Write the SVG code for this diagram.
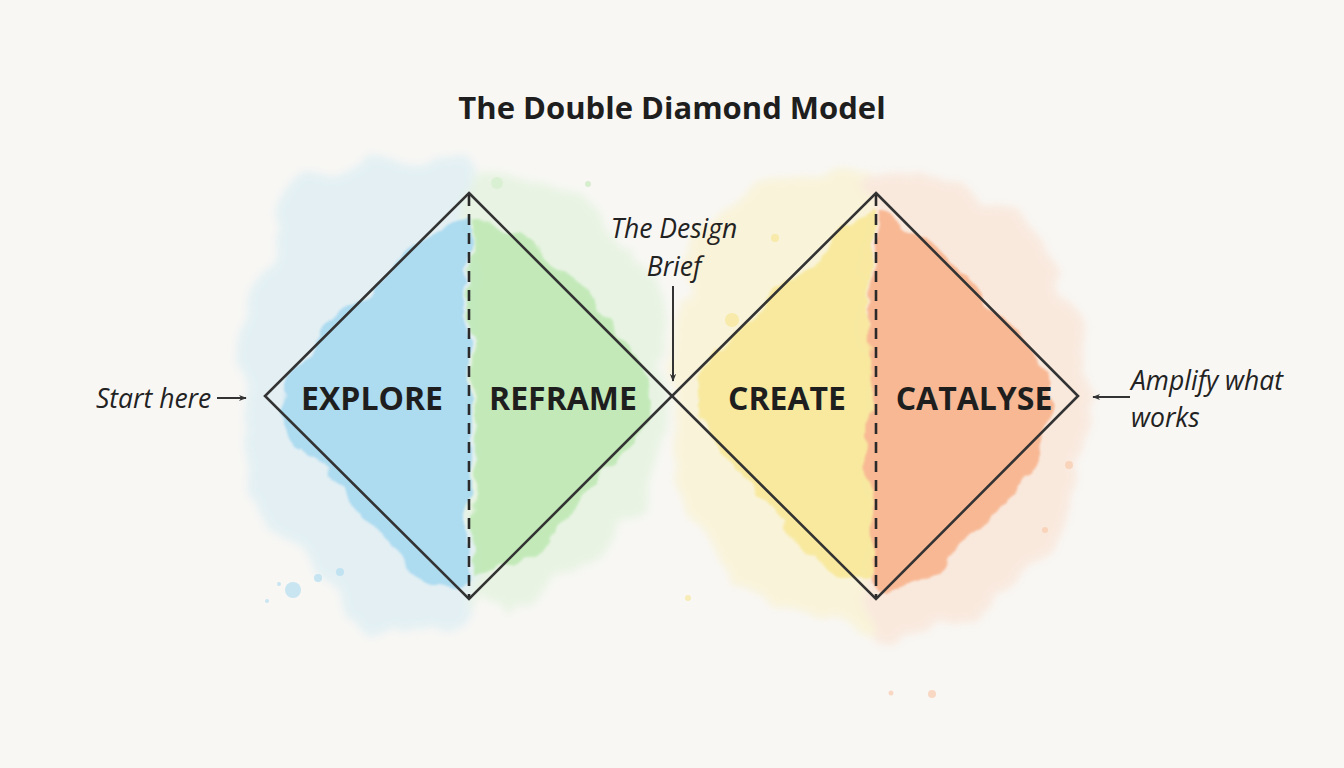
<svg xmlns="http://www.w3.org/2000/svg" width="1344" height="768" viewBox="0 0 1344 768">
<defs>
<filter id="wc" x="-20%" y="-20%" width="140%" height="140%">
<feTurbulence type="fractalNoise" baseFrequency="0.025" numOctaves="3" seed="4" result="n"/>
<feDisplacementMap in="SourceGraphic" in2="n" scale="28" xChannelSelector="R" yChannelSelector="G" result="d"/>
<feGaussianBlur in="d" stdDeviation="1.2"/>
</filter>
<filter id="halo" x="-20%" y="-20%" width="140%" height="140%">
<feTurbulence type="fractalNoise" baseFrequency="0.018" numOctaves="3" seed="9" result="n"/>
<feDisplacementMap in="SourceGraphic" in2="n" scale="45" xChannelSelector="R" yChannelSelector="G" result="d"/>
<feGaussianBlur in="d" stdDeviation="4"/>
</filter>
<marker id="ah" viewBox="0 0 10 10" refX="9" refY="5" markerWidth="8" markerHeight="8" orient="auto" markerUnits="userSpaceOnUse">
<path d="M0,1 L10,5 L0,9 L3,5 Z" fill="#333"/>
</marker>
<style>
.lbl{font-family:"Open Sans","Liberation Sans",sans-serif;font-style:italic;font-size:26.5px;fill:#222}
.ph{font-family:"Open Sans","Liberation Sans",sans-serif;font-weight:700;font-size:32px;fill:#1e1e1e;text-anchor:middle}
.dia{fill:none;stroke:#333;stroke-width:2.6;stroke-linejoin:miter}
.dash{stroke:#2a2a2a;stroke-width:2.6;stroke-dasharray:11 8}
.arr{stroke:#333;stroke-width:2;fill:none}
</style>
</defs>
<rect width="1344" height="768" fill="#f8f7f4"/>
<g id="washes">
<g filter="url(#halo)" opacity="0.5">
<path d="M300,190 C360,150 440,150 475,170 L475,630 C420,650 360,630 330,590 C270,540 230,470 240,400 C245,320 260,230 300,190 Z" fill="#cfe9f3"/>
<path d="M470,180 C520,170 590,190 640,260 C680,330 670,430 640,500 C610,560 540,610 470,610 Z" fill="#d9f0d3"/>
<path d="M700,230 C740,180 810,165 875,175 L875,625 C810,630 740,600 700,540 C670,480 665,300 700,230 Z" fill="#faf0c0"/>
<path d="M870,180 C950,170 1020,210 1060,280 C1095,360 1095,470 1060,540 C1020,610 940,640 870,630 Z" fill="#fbdcc8"/>
</g>
<g filter="url(#wc)" opacity="0.85">
<path d="M470,215 L470,585 C450,590 420,580 400,555 C370,520 330,490 300,445 C280,420 278,390 290,370 C320,330 360,300 390,270 C420,240 440,220 470,215 Z" fill="#a4d8f0"/>
<path d="M472,222 C500,215 530,235 560,270 C600,310 640,350 655,395 C650,430 610,460 580,500 C550,540 520,575 475,580 Z" fill="#bde8b2"/>
<path d="M872,210 L872,580 C840,585 810,560 790,530 C760,490 720,460 695,420 C690,395 700,370 720,350 C760,310 800,270 830,240 C845,222 860,212 872,210 Z" fill="#f8e896"/>
<path d="M876,215 C905,215 940,250 970,285 C1010,320 1045,360 1055,400 C1050,440 1020,480 985,520 C950,560 920,590 876,590 C865,560 868,480 870,400 Z" fill="#f8b088"/>
</g>
<g opacity="0.6">
<circle cx="293" cy="590" r="8" fill="#a9daf0"/>
<circle cx="318" cy="578" r="4" fill="#a9daf0"/>
<circle cx="340" cy="572" r="4" fill="#a9daf0"/>
<circle cx="279" cy="584" r="2" fill="#a9daf0"/>
<circle cx="267" cy="601" r="2" fill="#a9daf0"/>
<circle cx="497" cy="183" r="6" fill="#cfeec6"/>
<circle cx="588" cy="184" r="3" fill="#bfe8b4"/>
<circle cx="732" cy="320" r="7" fill="#f6e48a"/>
<circle cx="775" cy="238" r="4" fill="#f6e48a"/>
<circle cx="688" cy="598" r="3" fill="#f6e48a"/>
<circle cx="1069" cy="465" r="4" fill="#f8c4a4"/>
<circle cx="891" cy="693" r="2.5" fill="#f8c4a4"/>
<circle cx="932" cy="694" r="4" fill="#f8c4a4"/>
<circle cx="1045" cy="530" r="3" fill="#f8c4a4"/>
</g>
</g>
<text x="672" y="119" text-anchor="middle" font-family="'Open Sans','Liberation Sans',sans-serif" font-weight="700" font-size="31" fill="#1e1e1e">The Double Diamond Model</text>
<g id="diamond1">
<path class="dia" d="M469,193 L672,396 L469,599 L265,396 Z"/>
<line class="dash" x1="469" y1="195" x2="469" y2="597"/>
</g>
<g id="diamond2">
<path class="dia" d="M876,193 L1078,396 L876,599 L672,396 Z"/>
<line class="dash" x1="876" y1="195" x2="876" y2="597"/>
</g>
<g id="explore"><text class="ph" x="372" y="410">EXPLORE</text></g>
<g id="reframe"><text class="ph" x="563" y="410">REFRAME</text></g>
<g id="create"><text class="ph" x="787" y="410">CREATE</text></g>
<g id="catalyse"><text class="ph" x="974" y="410">CATALYSE</text></g>
<g id="start"><text class="lbl" x="96" y="408">Start here</text></g>
<g id="brief"><text class="lbl" x="674" y="238" text-anchor="middle">The Design</text><text class="lbl" x="674" y="276" text-anchor="middle">Brief</text></g>
<g id="amplify"><text class="lbl" x="1131" y="390">Amplify what</text><text class="lbl" x="1131" y="427">works</text></g>
<g id="connectors">
<line class="arr" x1="217" y1="398" x2="246" y2="398" marker-end="url(#ah)"/>
<line class="arr" x1="673" y1="286" x2="673" y2="381" marker-end="url(#ah)"/>
<line class="arr" x1="1130" y1="397" x2="1093" y2="397" marker-end="url(#ah)"/>
</g>
</svg>
